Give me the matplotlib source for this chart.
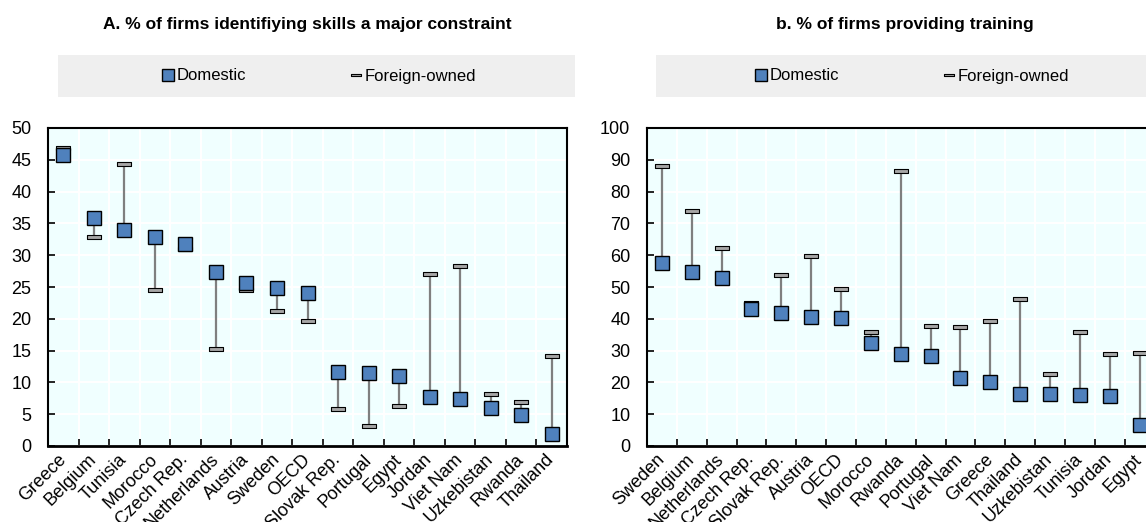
import matplotlib.pyplot as plt
import matplotlib.transforms as mtransforms
from matplotlib.path import Path
from matplotlib.lines import Line2D
from matplotlib.patches import Rectangle

plt.rcParams['font.family'] = ['Liberation Sans', 'DejaVu Sans']

# Panel A: % of firms identifying skills as a major constraint
skills_countries = ['Greece', 'Belgium', 'Tunisia', 'Morocco', 'Czech Rep.', 'Netherlands',
                    'Austria', 'Sweden', 'OECD', 'Slovak Rep.', 'Portugal', 'Egypt',
                    'Jordan', 'Viet Nam', 'Uzkebistan', 'Rwanda', 'Thailand']
skills_domestic = [45.8, 35.9, 33.9, 32.8, 31.8, 27.3, 25.6, 24.8, 24.1, 11.7, 11.5, 11.0,
                   7.7, 7.4, 5.9, 4.9, 1.9]
skills_foreign = [46.8, 32.8, 44.4, 24.6, 30.9, 15.3, 24.6, 21.2, 19.7, 5.8, 3.1, 6.3,
                  27.1, 28.3, 8.2, 6.9, 14.2]

# Panel B: % of firms providing training
training_countries = ['Sweden', 'Belgium', 'Netherlands', 'Czech Rep.', 'Slovak Rep.', 'Austria',
                      'OECD', 'Morocco', 'Rwanda', 'Portugal', 'Viet Nam', 'Greece', 'Thailand',
                      'Uzkebistan', 'Tunisia', 'Jordan', 'Egypt']
training_domestic = [57.4, 54.8, 52.9, 43.2, 41.7, 40.7, 40.4, 32.5, 28.8, 28.3, 21.4, 20.1,
                     16.4, 16.4, 16.1, 15.7, 6.5]
training_foreign = [88.1, 73.9, 62.3, 45.0, 53.8, 59.8, 49.5, 35.9, 86.4, 37.8, 37.3, 39.4,
                    46.3, 22.7, 35.9, 28.9, 29.3]

blue = '#4F81BD'
cap_grey = '#A6A6A6'
stem_grey = '#7F7F7F'
bg = '#F0FFFF'
band = '#EFEFEF'

# flat bar used for the foreign-owned value
cap = Path([(-1, -0.22), (1, -0.22), (1, 0.22), (-1, 0.22), (-1, -0.22)],
           [Path.MOVETO, Path.LINETO, Path.LINETO, Path.LINETO, Path.CLOSEPOLY])

W, H = 1146, 522
fig = plt.figure(figsize=(W / 100, H / 100), dpi=100)
shift = mtransforms.ScaledTranslation(3 / 100, 0, fig.dpi_scale_trans)


def px(x0, y0, w, h):
    return [x0 / W, (H - y0 - h) / H, w / W, h / H]


def panel(rect, countries, dom, fgn, ymax, ystep):
    ax = fig.add_axes(rect)
    xs = range(len(countries))
    ax.set_facecolor(bg)
    ax.vlines(xs, dom, fgn, color=stem_grey, lw=1.6, zorder=2)
    ax.plot(xs, fgn, ls='none', marker=cap, ms=10, mfc=cap_grey, mec='black', mew=0.8, zorder=3)
    ax.plot(xs, dom, ls='none', marker='s', ms=9.6, mfc=blue, mec='black', mew=1.0, zorder=4)
    ax.set_xlim(-0.5, len(countries) - 0.5)
    ax.set_ylim(0, ymax)
    ax.set_yticks(range(0, ymax + 1, ystep))
    ax.set_xticks(list(xs))
    ax.set_xticklabels(countries, rotation=45, ha='right', va='center', rotation_mode='anchor')
    for lbl in ax.get_xticklabels():
        lbl.set_transform(lbl.get_transform() + shift)
    ax.set_xticks([i + 0.5 for i in range(len(countries) - 1)], minor=True)
    ax.tick_params(axis='x', which='major', length=0, pad=8, labelsize=13)
    ax.tick_params(axis='x', which='minor', direction='in', length=5, width=1.2)
    ax.tick_params(axis='y', direction='in', length=5, width=1.2, pad=12, labelsize=13)
    ax.grid(axis='y', color='white', lw=1.5)
    ax.grid(axis='x', which='minor', color='white', lw=1.5)
    ax.set_axisbelow(True)
    for s in ax.spines.values():
        s.set_linewidth(1.5)
        s.set_color('black')
    ax.spines['bottom'].set_linewidth(2)
    return ax


ax1 = panel(px(48, 128, 519, 318), skills_countries, skills_domestic, skills_foreign, 50, 5)
ax2 = panel(px(647, 128, 507.5, 318), training_countries, training_domestic, training_foreign, 100, 10)

fig.text(307 / W, 1 - 25 / H, 'A. % of firms identifiying skills a major constraint',
         ha='center', va='center', fontsize=12.5, fontweight='bold')
fig.text(905 / W, 1 - 25 / H, 'b. % of firms providing training',
         ha='center', va='center', fontsize=12.5, fontweight='bold')

handles = [Line2D([], [], ls='none', marker='s', ms=8, mfc=blue, mec='black', mew=1.0),
           Line2D([], [], ls='none', marker=cap, ms=7.5, mfc=cap_grey, mec='black', mew=0.8)]
labels = ['Domestic', 'Foreign-owned']

for x0, x1, cx in [(58, 575, 319), (656, 1165, 912)]:
    fig.patches.append(Rectangle((x0 / W, 1 - 97 / H), (x1 - x0) / W, 42 / H,
                                 transform=fig.transFigure, facecolor=band, edgecolor='none', zorder=0))
    fig.legend(handles, labels, loc='center', bbox_to_anchor=(cx / W, 1 - 76 / H), ncol=2,
               frameon=False, fontsize=12, handlelength=0.7, handletextpad=0.2,
               columnspacing=6.2, borderpad=0)

fig.savefig('out.png', dpi=100)
